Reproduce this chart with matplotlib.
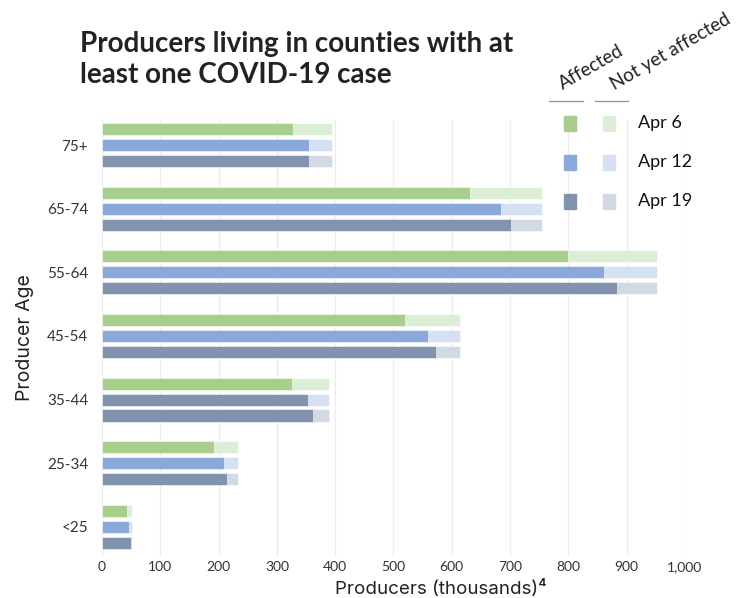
import matplotlib
matplotlib.use("Agg")
import matplotlib.pyplot as plt
import numpy as np

# ---- data ----
ages = ['<25', '25-34', '35-44', '45-54', '55-64', '65-74', '75+']
total = [51, 233, 390, 614, 952, 755, 395]
apr6 = [43, 192, 326, 519, 799, 632, 328]
apr12 = [47, 209, 354, 560, 862, 684, 355]
apr19 = [49, 215, 362, 573, 884, 701, 355]
dates = ['Apr 6', 'Apr 12', 'Apr 19']
xticks = [0, 100, 200, 300, 400, 500, 600, 700, 800, 900, 1000]
xticklabels = ['0', '100', '200', '300', '400', '500', '600', '700', '800', '900', '1,000']
title_lines = ['Producers living in counties with at', 'least one COVID-19 case']

FONT = ['Lato', 'DejaVu Sans']
FONT2 = ['Inter', 'DejaVu Sans']
plt.rcParams['font.family'] = FONT

dark_c = ['#a7cf8b', '#8aa8da', '#8293ad']
light_c = ['#dcefd6', '#d5e0f2', '#d3d9e3']

W, H = 736, 598
def fx(px):
    return px / W
def fy(py):
    return 1 - py / H

fig = plt.figure(figsize=(7.36, 5.98), dpi=100)
ax = fig.add_axes([0.1386, 0.071, 0.792, 0.729])

y = np.arange(len(ages))
offsets = [0.25, 0.0, -0.25]
h = 0.19
series = [apr6, apr12, apr19]
for i, s in enumerate(series):
    yy = y + offsets[i]
    ax.barh(yy, total, height=h, color=light_c[i], zorder=2, edgecolor='white', linewidth=0.4)
    cols = [dark_c[i]] * len(ages)
    if i == 1:
        cols[2] = dark_c[2]  # reference shows this bar in slate
    ax.barh(yy, s, height=h, color=cols, zorder=3, edgecolor='white', linewidth=0.4)

ax.set_xlim(0, 1000)
ax.set_ylim(-0.45, 6.4)
ax.set_xticks(xticks)
ax.set_xticklabels(xticklabels)
ax.set_yticks(y)
ax.set_yticklabels(ages)
ax.tick_params(axis='both', length=0, colors='#333333')
ax.tick_params(axis='y', pad=10, labelsize=11)
ax.tick_params(axis='x', pad=4, labelsize=10)
for sp in ax.spines.values():
    sp.set_visible(False)
ax.grid(axis='x', color='#ececec', linewidth=1, zorder=0)
ax.set_axisbelow(True)

fig.text(fx(441), fy(589), 'Producers (thousands)⁴', fontsize=13.5, color='#222222',
         ha='center', va='center', family=FONT2)
ax.set_ylabel('Producer Age', fontsize=14, color='#222222', labelpad=9, family=FONT2)

# title
fig.text(fx(80), fy(52), title_lines[0], fontsize=20, fontweight='bold',
         color='#222222', ha='left', va='baseline')
fig.text(fx(80), fy(83), title_lines[1], fontsize=20, fontweight='bold',
         color='#222222', ha='left', va='baseline')

# custom legend
fig.text(fx(563), fy(90), 'Affected', rotation=30, rotation_mode='anchor',
         ha='left', va='baseline', fontsize=13.5, color='#222222')
fig.text(fx(614), fy(90), 'Not yet affected', rotation=30, rotation_mode='anchor',
         ha='left', va='baseline', fontsize=13.5, color='#222222')
for x0, x1 in [(549, 583), (595, 628)]:
    fig.add_artist(plt.Line2D([fx(x0), fx(x1)], [fy(101), fy(101)], color='#999999', lw=1))
rows = [123, 162, 201]
for i, d in enumerate(dates):
    yc = rows[i]
    fig.add_artist(plt.Rectangle((fx(564), fy(yc + 7.5)), 12 / W, 15 / H,
                                 color=dark_c[i], transform=fig.transFigure))
    fig.add_artist(plt.Rectangle((fx(603), fy(yc + 7.5)), 12 / W, 15 / H,
                                 color=light_c[i], transform=fig.transFigure))
    fig.text(fx(638), fy(yc), d, ha='left', va='center', fontsize=13, color='#111111')

fig.savefig('out.png', dpi=100, facecolor='white')
